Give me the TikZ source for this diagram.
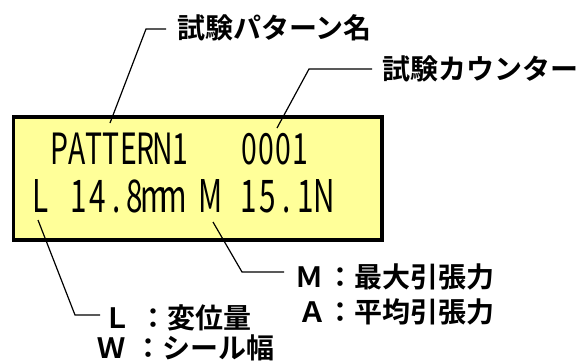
\documentclass[tikz,border=0pt]{standalone}
\usepackage{fontspec}
\newfontfamily\jpb{Noto Sans CJK JP Bold}
\newfontfamily\lcdfont[FakeStretch=0.66]{Noto Sans CJK JP}
\definecolor{lcdyellow}{RGB}{255,255,153}
\newcommand\lcdcells[2]{\def\lcdw{#1}\lcdloop#2\lcdstop}
\def\lcdloop#1{\ifx#1\lcdstop\else\makebox[\lcdw][c]{#1}\expandafter\lcdloop\fi}
\begin{document}
\begin{tikzpicture}[x=1pt,y=-1pt,
  leader/.style={line width=1.2pt, draw=black},
  lab/.style={inner sep=0pt, font=\jpb\fontsize{28}{30}\selectfont},
  lcdtext/.style={inner sep=0pt, anchor=base west}]
\useasboundingbox (0,0) rectangle (580,360);
\node[draw=black, line width=3.5pt, fill=lcdyellow, minimum width=368.5pt,
      minimum height=123pt, inner sep=0pt, anchor=north west] (lcd) at (11.5,115) {};
\node[lcdtext, font=\lcdfont\fontsize{43}{46}\selectfont] (row1) at (51,164)
  {\lcdcells{17.2pt}{PATTERN1~~~0001}};
\node[lcdtext, font=\lcdfont\fontsize{45}{48}\selectfont] (row2) at (31,212)
  {\lcdcells{18.9pt}{L~14.8mm~M~15.1N}};
\node[lab, anchor=west] (tpat) at (177,28) {試験パターン名};
\node[lab, anchor=west] (tcnt) at (382,69) {試験カウンター};
\node[lab, anchor=base west] (tL) at (103,328) {Ｌ\hspace{8pt}：変位量};
\node[lab, anchor=base west] (tW) at (97,358) {Ｗ\hspace{9pt}：シール幅};
\node[lab, anchor=base west] (tM) at (295,287) {Ｍ\hspace{3pt}：最大引張力};
\node[lab, anchor=base west] (tA) at (298,322) {Ａ：平均引張力};
\coordinate (e1) at (110,123); \coordinate (k1) at (146,29);
\coordinate (e2) at (277,128); \coordinate (k2) at (309,69);
\coordinate (e3) at (38,220);  \coordinate (k3) at (75,315);
\coordinate (e4) at (213,222); \coordinate (k4) at (242,272);
\draw[leader, shorten >=11pt] (e1) -- (k1) -- (k1 -| tpat.west);
\draw[leader, shorten >=10pt] (e2) -- (k2) -- (k2 -| tcnt.west);
\draw[leader, shorten >=3pt]  (e3) -- (k3) -- (k3 -| tL.west);
\draw[leader, shorten >=11pt] (e4) -- (k4) -- (k4 -| tM.west);
\end{tikzpicture}
\end{document}
